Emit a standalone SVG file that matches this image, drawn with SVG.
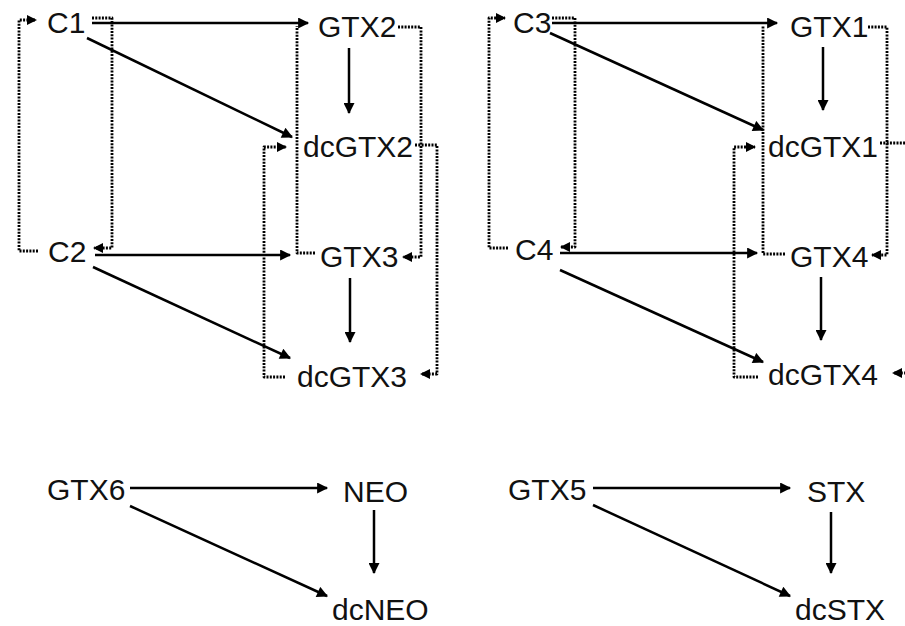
<svg xmlns="http://www.w3.org/2000/svg" width="905" height="626" viewBox="0 0 905 626">
<style>
text{font-family:"Liberation Sans",Arial,sans-serif;font-size:30px;fill:#111}
.s{fill:none;stroke:#000;stroke-width:2.5;marker-end:url(#a)}
.d{fill:none;stroke:#000;stroke-width:2.8;stroke-dasharray:2 1.3;stroke-linejoin:round}
.da{marker-end:url(#b)}
</style>
<defs>
<marker id="a" viewBox="0 0 10 10" refX="9" refY="5" markerWidth="13" markerHeight="11" markerUnits="userSpaceOnUse" orient="auto"><path d="M0 0L10 5L0 10z" fill="#000"/></marker>
<marker id="b" viewBox="0 0 10 10" refX="9" refY="5" markerWidth="11" markerHeight="10" markerUnits="userSpaceOnUse" orient="auto"><path d="M0 0L10 5L0 10z" fill="#000"/></marker>
</defs>
<rect width="905" height="626" fill="#fff"/>
<g id="C1"><text x="47" y="33">C1</text></g>
<g id="GTX2"><text x="318" y="37">GTX2</text></g>
<g id="dcGTX2"><text x="303" y="157">dcGTX2</text></g>
<g id="C2"><text x="48" y="262">C2</text></g>
<g id="GTX3"><text x="320" y="267">GTX3</text></g>
<g id="dcGTX3"><text x="297" y="387">dcGTX3</text></g>
<g id="C3"><text x="513" y="33">C3</text></g>
<g id="GTX1"><text x="790" y="37">GTX1</text></g>
<g id="dcGTX1"><text x="768" y="157">dcGTX1</text></g>
<g id="C4"><text x="515" y="260">C4</text></g>
<g id="GTX4"><text x="790" y="267">GTX4</text></g>
<g id="dcGTX4"><text x="768" y="385">dcGTX4</text></g>
<g id="GTX6"><text x="47" y="500">GTX6</text></g>
<g id="NEO"><text x="343" y="502">NEO</text></g>
<g id="dcNEO"><text x="332" y="620">dcNEO</text></g>
<g id="GTX5"><text x="508" y="500">GTX5</text></g>
<g id="STX"><text x="807" y="502">STX</text></g>
<g id="dcSTX"><text x="795" y="620">dcSTX</text></g>
<g id="connectors">
<path class="s" d="M92 23H308"/>
<path class="s" d="M87 38L292 137"/>
<path class="s" d="M349 48V113"/>
<path class="s" d="M95 255H290"/>
<path class="s" d="M93 267L290 358"/>
<path class="s" d="M350 278V342"/>
<path class="d da" d="M92 18H112V248H94"/>
<path class="d da" d="M38 251H19V20H36"/>
<path class="d" d="M315 253H297V26"/>
<path class="d da" d="M398 27H421V257H403"/>
<path class="d da" d="M415 145H437V374H421"/>
<path class="d da" d="M285 377H264V147H286"/>
<path class="s" d="M552 23H777"/>
<path class="s" d="M550 33L763 130"/>
<path class="s" d="M823 47V110"/>
<path class="s" d="M560 253H757"/>
<path class="s" d="M560 270L763 362"/>
<path class="s" d="M821 277V340"/>
<path class="d da" d="M552 18H575V247H561"/>
<path class="d da" d="M508 248H489V18H505"/>
<path class="d" d="M785 254H763V26"/>
<path class="d da" d="M868 27H887V255H872"/>
<path class="d da" d="M880 143H915V373H893"/>
<path class="d da" d="M758 377H734V147H755"/>
<path class="s" d="M130 488H327"/>
<path class="s" d="M130 506L327 596"/>
<path class="s" d="M374 510V573"/>
<path class="s" d="M593 488H790"/>
<path class="s" d="M593 505L790 596"/>
<path class="s" d="M831 512V573"/>
</g>
</svg>
